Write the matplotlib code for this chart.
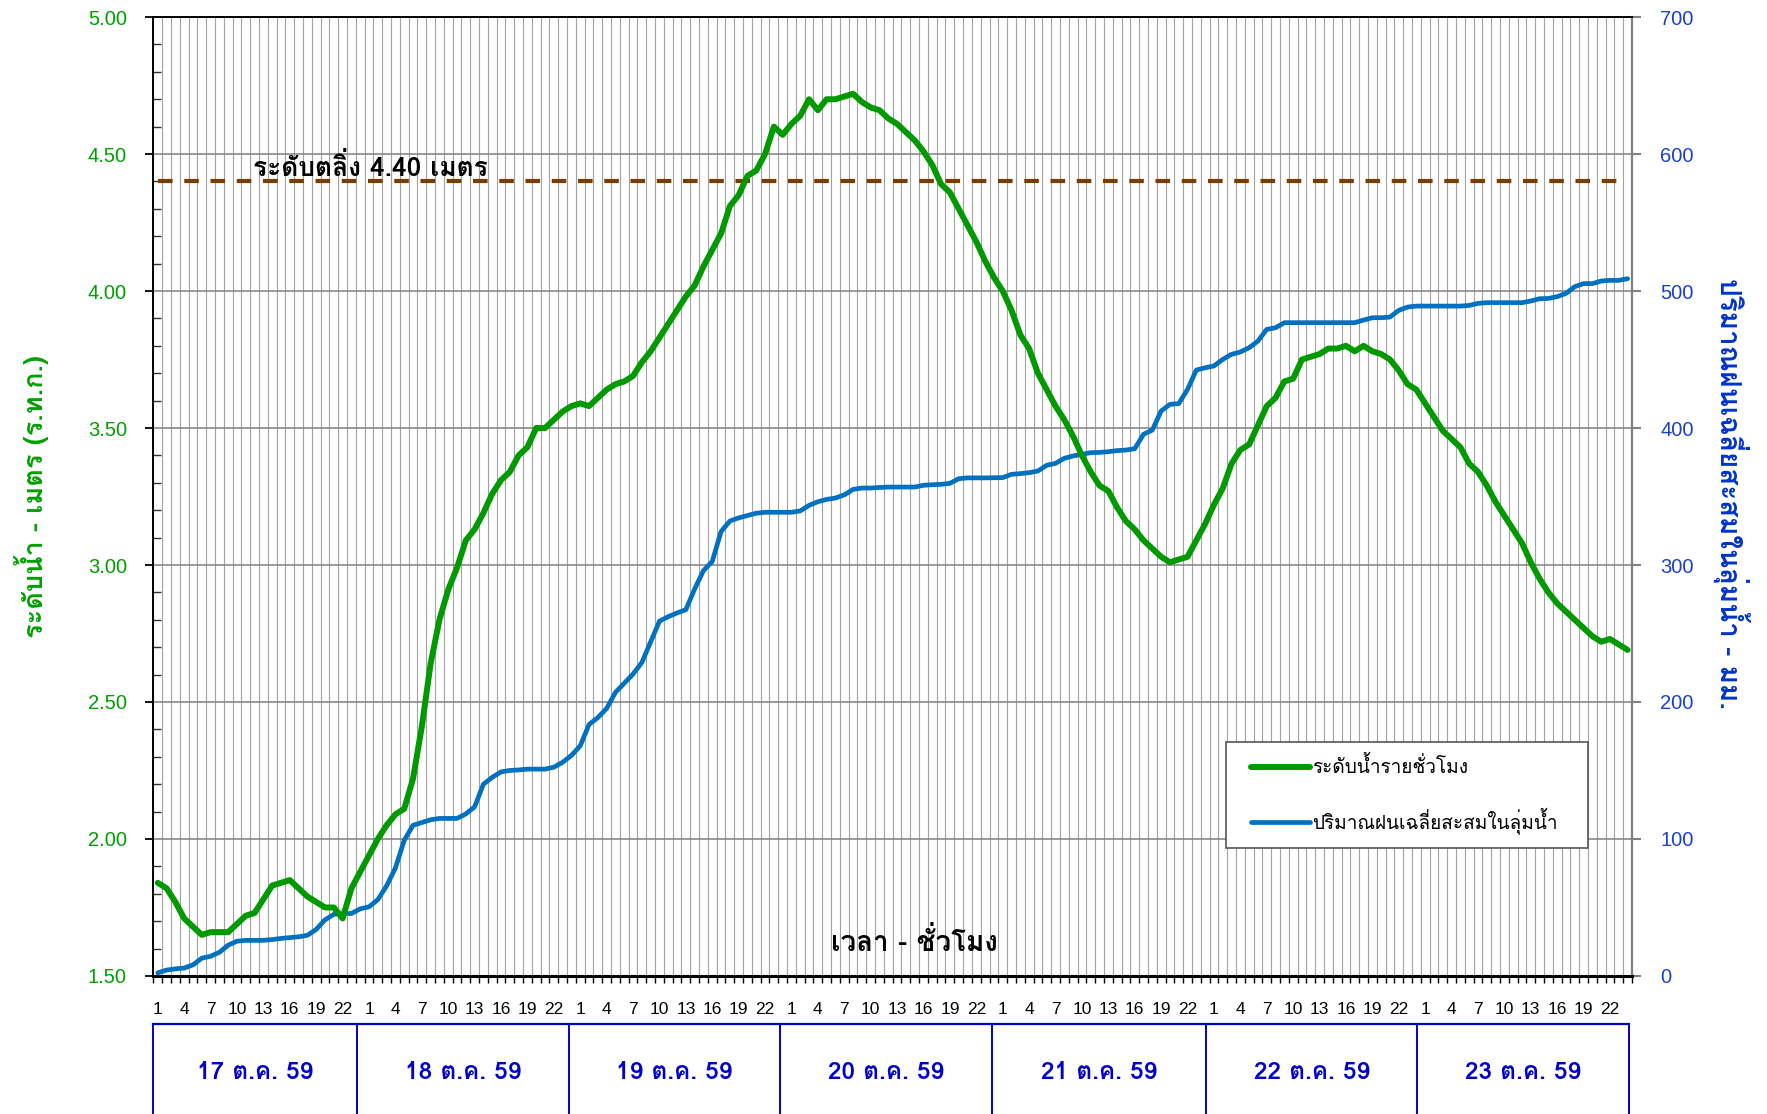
import numpy as np
import matplotlib
matplotlib.use('Agg')
import matplotlib.pyplot as plt
import matplotlib.patheffects as pe
from matplotlib import font_manager as fm
from matplotlib.ft2font import FT2Font
from matplotlib.lines import Line2D
from matplotlib.legend_handler import HandlerLine2D

# hourly water level (m MSL), 17-23 Oct 2559, one row per day
level = [
    1.84, 1.82, 1.77, 1.71, 1.68, 1.65, 1.66, 1.66, 1.66, 1.69, 1.72, 1.73,
    1.78, 1.83, 1.84, 1.85, 1.82, 1.79, 1.77, 1.75, 1.75, 1.71, 1.82, 1.88,
    1.94, 2.00, 2.05, 2.09, 2.11, 2.22, 2.41, 2.64, 2.80, 2.91, 2.99, 3.09,
    3.13, 3.19, 3.26, 3.31, 3.34, 3.40, 3.43, 3.50, 3.50, 3.53, 3.56, 3.58,
    3.59, 3.58, 3.61, 3.64, 3.66, 3.67, 3.69, 3.74, 3.78, 3.83, 3.88, 3.93,
    3.98, 4.02, 4.09, 4.15, 4.21, 4.31, 4.35, 4.42, 4.44, 4.50, 4.60, 4.57,
    4.61, 4.64, 4.70, 4.66, 4.70, 4.70, 4.71, 4.72, 4.69, 4.67, 4.66, 4.63,
    4.61, 4.58, 4.55, 4.51, 4.46, 4.39, 4.36, 4.30, 4.24, 4.18, 4.11, 4.05,
    4.00, 3.93, 3.84, 3.79, 3.70, 3.64, 3.58, 3.53, 3.47, 3.40, 3.34, 3.29,
    3.27, 3.21, 3.16, 3.13, 3.09, 3.06, 3.03, 3.01, 3.02, 3.03, 3.09, 3.15,
    3.22, 3.28, 3.37, 3.42, 3.44, 3.51, 3.58, 3.61, 3.67, 3.68, 3.75, 3.76,
    3.77, 3.79, 3.79, 3.80, 3.78, 3.80, 3.78, 3.77, 3.75, 3.71, 3.66, 3.64,
    3.59, 3.54, 3.49, 3.46, 3.43, 3.37, 3.34, 3.29, 3.23, 3.18, 3.13, 3.08,
    3.01, 2.95, 2.90, 2.86, 2.83, 2.80, 2.77, 2.74, 2.72, 2.73, 2.71, 2.69,
]

# accumulated average basin rainfall (mm)
rain = [
    2.3, 4.3, 5.2, 5.8, 8.1, 13.0, 14.4, 17.3, 22.5, 25.4, 26.0, 26.0,
    26.0, 26.6, 27.4, 28.0, 28.6, 29.7, 34.0, 41.0, 45.0, 45.6, 45.6, 49.0,
    50.5, 55.7, 65.8, 78.8, 99.0, 110.0, 112.0, 114.0, 115.0, 115.0, 115.0, 118.3,
    123.5, 140.0, 145.0, 149.0, 150.0, 150.4, 151.0, 151.0, 151.0, 152.4, 156.0, 161.0,
    168.0, 183.6, 188.6, 195.3, 207.0, 213.7, 220.4, 228.8, 243.9, 259.0, 262.3, 265.0,
    267.4, 282.5, 295.9, 302.6, 324.4, 332.1, 334.4, 336.1, 337.8, 338.5, 338.5, 338.5,
    338.5, 339.5, 343.5, 346.2, 347.9, 348.9, 351.2, 355.2, 356.2, 356.2, 356.6, 356.9,
    356.9, 356.9, 356.9, 358.2, 358.6, 358.9, 359.6, 363.0, 363.6, 363.6, 363.6, 363.7,
    363.8, 366.2, 366.7, 367.4, 368.6, 372.8, 374.2, 377.9, 379.6, 380.8, 382.0, 382.2,
    382.7, 383.5, 383.9, 384.9, 395.4, 398.5, 412.4, 417.3, 417.8, 428.2, 442.3, 444.0,
    445.3, 450.1, 453.8, 455.5, 458.6, 463.5, 472.0, 473.2, 476.9, 476.9, 476.9, 476.9,
    476.9, 476.9, 476.9, 476.9, 476.9, 478.8, 480.5, 480.5, 481.0, 485.9, 488.3, 489.0,
    489.0, 489.0, 489.0, 489.0, 489.0, 489.5, 491.0, 491.5, 491.5, 491.5, 491.5, 491.5,
    492.7, 494.4, 494.6, 495.9, 498.3, 503.2, 505.4, 505.4, 507.3, 507.8, 507.8, 509.0,
]

day_labels = ['17 ต.ค. 59', '18 ต.ค. 59', '19 ต.ค. 59', '20 ต.ค. 59',
              '21 ต.ค. 59', '22 ต.ค. 59', '23 ต.ค. 59']
hour_labels = [str(h) for h in range(1, 25)]
bank_level = 4.40


def thai_family():
    # pick an installed font that has Thai glyphs, preferably with a bold face
    prefer = ['Noto Sans Thai', 'Noto Sans Thai UI', 'Loma', 'Garuda', 'Tlwg Typo',
              'Waree', 'Sarabun', 'Kinnari', 'Norasi', 'Umpush', 'Noto Serif Thai',
              'Noto Looped Thai']
    found = {}
    for f in fm.fontManager.ttflist:
        try:
            if FT2Font(f.fname).get_char_index(ord('ก')):
                w = f.weight if isinstance(f.weight, int) else 400
                found[f.name] = max(found.get(f.name, 0), w)
        except Exception:
            pass
    names = [p for p in prefer if p in found] + [n for n in found if n not in prefer]
    with_bold = [n for n in names if found[n] >= 600]
    if with_bold:
        return with_bold[0], True
    if names:
        return names[0], False
    return 'DejaVu Sans', True


thai_name, thai_bold = thai_family()
THAI = [thai_name, 'DejaVu Sans']
NUM = ['Liberation Sans', 'DejaVu Sans']


def bold_fx(color, w=1.1):
    # thicken strokes when the Thai font has no bold face
    return [] if thai_bold else [pe.withStroke(linewidth=w, foreground=color)]


class ShiftedLine(HandlerLine2D):
    def get_xdata(self, legend, xdescent, ydescent, width, height, fontsize):
        xd, xm = super().get_xdata(legend, xdescent, ydescent, width, height, fontsize)
        xd = np.asarray(xd, dtype=float)
        xd[0] += 0.6 * fontsize
        return xd, xm


green = '#009900'
blue = '#0070c0'
lab_green = '#00a000'
lab_blue = '#1c3fd0'

hours = np.arange(1, len(level) + 1)
edges = np.arange(0.5, len(level) + 1, 1)

fig = plt.figure(figsize=(17.67, 11.14), dpi=100)
ax = fig.add_axes([0.0868, 0.1239, 0.8368, 0.8608])
ax2 = ax.twinx()
ax.set_zorder(ax2.get_zorder() + 1)
ax.patch.set_visible(False)

# grid lives on the back axis
ax2.vlines(edges, 0, 700, colors='#a3a3a3', lw=0.8, zorder=0)
ax2.set_yticks(np.arange(0, 701, 100))
ax2.yaxis.grid(True, color='#808080', lw=1.1, zorder=0)
ax2.set_axisbelow(True)

b_line, = ax2.plot(hours, rain, color=blue, lw=3.4, solid_joinstyle='round',
                   solid_capstyle='round', zorder=3)
g_line, = ax.plot(hours, level, color=green, lw=4.3, solid_joinstyle='round',
                  solid_capstyle='round', zorder=4)

ax.axhline(bank_level, xmin=0.003, xmax=0.993, color='#7a3d00', lw=3,
           linestyle=(0, (3.5, 2.8)), zorder=3)
ax.annotate(f'ระดับตลิ่ง {bank_level:.2f} เมตร', (25.2, bank_level), xytext=(0, 4),
            textcoords='offset points', ha='center', va='baseline',
            fontsize=19, fontweight='bold', family=THAI, color='black',
            path_effects=bold_fx('black'))
ax.text(0.515, 0.036, 'เวลา - ชั่วโมง', transform=ax.transAxes, ha='center',
        va='center', fontsize=20, fontweight='bold', family=THAI, color='black',
        path_effects=bold_fx('black'))

ax.set_xlim(0.5, len(level) + 0.5)
ax.set_ylim(1.5, 5.0)
ax2.set_ylim(0, 700)

# x axis: ticks on hour boundaries, labels every 3 hours
ax.set_xticks(edges, minor=True)
ax.set_xticks(hours[::3])
ax.set_xticklabels([hour_labels[(h - 1) % 24] for h in hours[::3]],
                   family=NUM, fontsize=12.5)
ax.tick_params(axis='x', which='major', length=0, pad=19)
ax.tick_params(axis='x', which='minor', length=5, width=1.0, direction='out',
               color='black')

ax.set_yticks(np.arange(1.5, 5.01, 0.5))
ax.set_yticks(np.arange(1.5, 5.01, 0.1), minor=True)
ax.set_yticklabels([f'{v:.2f}' for v in np.arange(1.5, 5.01, 0.5)],
                   family=NUM, fontsize=14.5, color=lab_green)
ax.tick_params(axis='y', which='major', length=6, width=1.3, direction='out',
               pad=13, color='black')
ax.tick_params(axis='y', which='minor', length=5.5, width=1.0, direction='in',
               color='#333333')

ax2.set_yticklabels([str(v) for v in range(0, 701, 100)], family=NUM,
                    fontsize=14.5, color=lab_blue)
ax2.tick_params(axis='y', length=6.2, width=1.5, direction='out', pad=14,
                color='#808080')

for s in ['left', 'top']:
    ax.spines[s].set_color('black')
    ax.spines[s].set_linewidth(1.4)
ax.spines['bottom'].set_linewidth(2.2)
ax.spines['right'].set_visible(False)
for s in ['left', 'top', 'bottom']:
    ax2.spines[s].set_visible(False)
ax2.spines['right'].set_color('#808080')
ax2.spines['right'].set_linewidth(1.6)

fig.text(0.0181, 0.5539, 'ระดับน้ำ - เมตร (ร.ท.ก.)', rotation=90, ha='center',
         va='center', fontsize=19.5, fontweight='bold', family=THAI, color=lab_green,
         path_effects=bold_fx(lab_green))
fig.text(0.9796, 0.5566, 'ปริมาณฝนเฉลี่ยสะสมในลุ่มน้ำ - มม.', rotation=-90,
         ha='center', va='center', fontsize=20, fontweight='bold', family=THAI,
         color='#0033cc', path_effects=bold_fx('#0033cc'))

leg = ax.legend([g_line, b_line], ['ระดับน้ำรายชั่วโมง', 'ปริมาณฝนเฉลี่ยสะสมในลุ่มน้ำ'],
                loc='upper left', bbox_to_anchor=(0.7252, 0.1359, 0.2448, 0.1078),
                mode='expand', borderaxespad=0, fancybox=False, framealpha=1,
                edgecolor='#555555', prop={'family': THAI, 'size': 13.7},
                handlelength=3.68, handletextpad=0.15, labelspacing=1.57,
                borderpad=0.73, handler_map={Line2D: ShiftedLine()})
leg.get_frame().set_linewidth(1.2)
leg.set_zorder(10)

# date table under the hour labels
xt = ax.get_xaxis_transform()
cell_edges = [0.5, 23.6, 47.7, 71.7, 95.8, 120.1, 144.1, 168.2]
ax.add_line(Line2D([cell_edges[0], cell_edges[-1]], [-0.050, -0.050], transform=xt,
                   color='#0000cc', lw=1.6, clip_on=False))
for e in cell_edges:
    ax.add_line(Line2D([e, e], [-0.050, -0.2], transform=xt, color='#0000cc',
                       lw=1.4, clip_on=False))
for i, lab in enumerate(day_labels):
    cx = (cell_edges[i] + cell_edges[i + 1]) / 2
    ax.text(cx, -0.101, lab, transform=xt, ha='center', va='center', fontsize=17.5,
            fontweight='bold', family=THAI, color='#0000cc', clip_on=False,
            path_effects=bold_fx('#0000cc'))

fig.savefig('out.png', dpi=100)
